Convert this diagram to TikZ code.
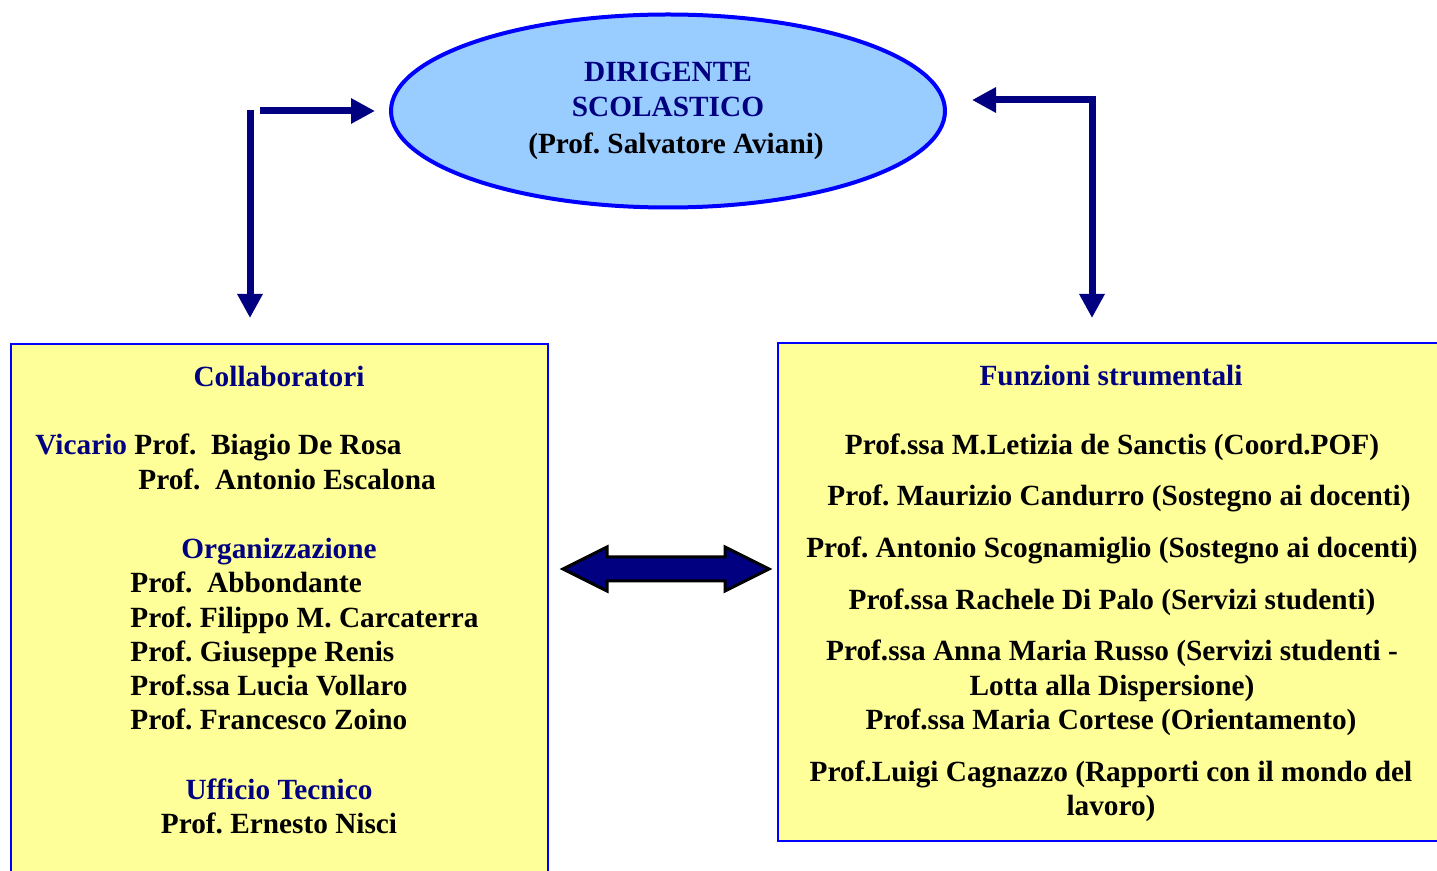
\documentclass[tikz,border=0pt]{standalone}
\usepackage{fontspec}
\setmainfont{Liberation Serif}
\usetikzlibrary{arrows.meta,shapes.geometric}
\frenchspacing
\definecolor{navytext}{HTML}{000080}
\definecolor{arrowblue}{HTML}{000080}
\definecolor{ellfill}{HTML}{99CCFF}
\definecolor{ellline}{HTML}{0000FF}
\definecolor{boxfill}{HTML}{FFFF99}
\tikzset{
  txt/.style={inner sep=0pt, anchor=base, font=\fontsize{14.65}{17.25}\selectfont\bfseries},
  ltxt/.style={txt, anchor=base west},
  ttl/.style={txt, text=navytext},
  bigarrow/.style={draw=arrowblue, line width=3.5pt, -{Triangle[length=12pt,width=12pt]}},
  panel/.style={draw=ellline, line width=1pt, fill=boxfill},
}
\begin{document}
\begin{tikzpicture}[x=0.5pt,y=-0.5pt]
\clip (0,0) rectangle (1437,871);
\fill[white] (0,0) rectangle (1437,871);
% panels
\draw[panel] (11,344) rectangle (548,900);
\draw[panel] (778,343) rectangle (1460,841);
% ellipse
\node[ellipse, draw=ellline, line width=2pt, fill=ellfill, minimum width=277pt, minimum height=96.5pt, inner sep=0pt] (dir) at (668,111) {};
\node[ttl] (d1) at (668,82) {DIRIGENTE};
\node[ttl] (d2) at (668,117) {SCOLASTICO};
\node[txt] (d3) at (676,154) {(Prof. Salvatore Aviani)};
% arrow coordinates
\coordinate (la) at (250,110);
\coordinate (lb) at (250,318);
\coordinate (lc) at (260,111);
\coordinate (ld) at (375,111);
\coordinate (ra) at (1092,100);
\coordinate (rb) at (1092,318);
\coordinate (rc) at (972,100);
\draw[bigarrow] (la) -- (lb);
\draw[bigarrow] (lc) -- (ld);
\draw[bigarrow, {Triangle[length=12pt,width=12pt]}-{Triangle[length=12pt,width=12pt]}] (rc) -| (rb);
% double arrow
\coordinate (dl) at (563,569);
\coordinate (dr) at (769,569);
\draw[fill=arrowblue, draw=black, line width=1.5pt, line join=miter]
  (dl) -- ++(44,-22) -- ++(0,10) -- ++(118,0) -- ++(0,-10) -- (dr)
  -- ++(-44,22) -- ++(0,-10) -- ++(-118,0) -- ++(0,10) -- cycle;
% left panel text
\node[ttl] (c0) at (279,387) {Collaboratori};
\node[ltxt] (c1) at (35,455) {\textcolor{navytext}{Vicario} Prof.~~Biagio De Rosa};
\node[ltxt] (c2) at (138,490) {Prof.~~Antonio Escalona};
\node[ttl] (o0) at (279,559) {Organizzazione};
\node[ltxt] (o1) at (130,593) {Prof.~~Abbondante};
\node[ltxt] (o2) at (130,628) {Prof. Filippo M. Carcaterra};
\node[ltxt] (o3) at (130,662) {Prof. Giuseppe Renis};
\node[ltxt] (o4) at (130,696) {Prof.ssa Lucia Vollaro};
\node[ltxt] (o5) at (130,730) {Prof. Francesco Zoino};
\node[ttl] (u0) at (279,800) {Ufficio Tecnico};
\node[txt] (u1) at (279,834) {Prof. Ernesto Nisci};
% right panel text
\node[ttl] (f0) at (1111,386) {Funzioni strumentali};
\node[txt] (f1) at (1112,455) {Prof.ssa M.Letizia de Sanctis (Coord.POF)};
\node[txt] (f2) at (1119,506) {Prof. Maurizio Candurro (Sostegno ai docenti)};
\node[txt] (f3) at (1112,558) {Prof. Antonio Scognamiglio (Sostegno ai docenti)};
\node[txt] (f4) at (1112,610) {Prof.ssa Rachele Di Palo (Servizi studenti)};
\node[txt] (f5) at (1112,661) {Prof.ssa Anna Maria Russo (Servizi studenti -};
\node[txt] (f6) at (1112,696) {Lotta alla Dispersione)};
\node[txt] (f7) at (1111,730) {Prof.ssa Maria Cortese (Orientamento)};
\node[txt] (f8) at (1111,782) {Prof.Luigi Cagnazzo (Rapporti con il mondo del};
\node[txt] (f9) at (1111,816) {lavoro)};
\end{tikzpicture}
\end{document}
